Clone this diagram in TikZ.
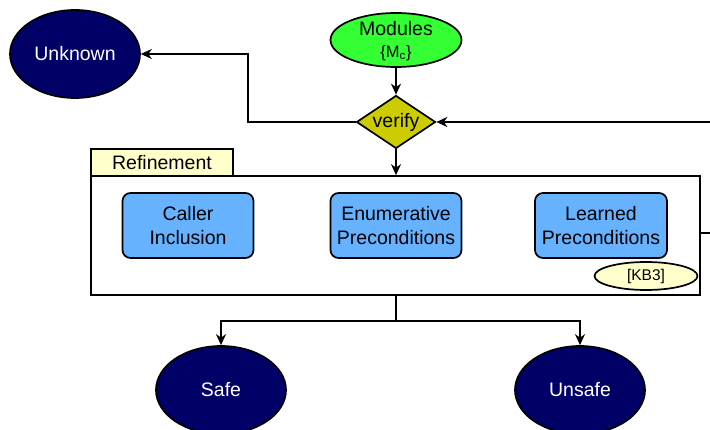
\documentclass[tikz,border=0pt]{standalone}
\usepackage{fontspec}
\setmainfont{Liberation Sans}
\usetikzlibrary{shapes.geometric,arrows.meta}

\definecolor{navy}{HTML}{000066}
\definecolor{modgreen}{HTML}{33FF33}
\definecolor{olive}{HTML}{CCCC00}
\definecolor{stepblue}{HTML}{66B2FF}
\definecolor{paleyellow}{HTML}{FFFFCC}

\tikzset{
  txt/.style={inner sep=0pt, align=center, font=\fontsize{19.5}{24}\selectfont},
  base/.style={txt, draw=black, line width=1.7pt},
  outcome/.style={base, ellipse, fill=navy, text=white,
    minimum width=130pt, minimum height=88pt},
  source/.style={base, ellipse, fill=modgreen, minimum width=131pt, minimum height=54pt},
  check/.style={base, diamond, fill=olive, minimum width=79pt, minimum height=53pt},
  stepbox/.style={base, rounded corners=8pt, fill=stepblue,
    minimum width=131pt, minimum height=65pt},
  frame/.style={base, minimum width=609pt, minimum height=119pt},
  tab/.style={base, fill=paleyellow, minimum width=142pt, minimum height=27pt},
  tag/.style={base, ellipse, fill=paleyellow, minimum width=103pt, minimum height=28pt,
    font=\fontsize{15.5}{18}\selectfont},
  link/.style={line width=1.7pt},
  arr/.style={link, -{Stealth[length=11pt,width=10pt,inset=3.5pt]}},
}

\begin{document}
\begin{tikzpicture}[x=1pt,y=-1pt]
  \useasboundingbox (0,0) rectangle (710,430);
  \clip (0,0) rectangle (710,430);

  % nodes
  \node[outcome] (unk) at (75,54) {Unknown};
  \node[source] (mod) at (396,40) {};
  \node[txt] at (396,28.5) {Modules};
  \node[txt, font=\fontsize{16.5}{20}\selectfont] at (396,53) {\{M\textsubscript{c}\}};
  \node[check] (ver) at (396,122) {};
  \node[txt] at (ver) {verify};

  \node[frame] (ref) at (395.5,235.5) {};
  \node[tab] (reftab) at (162,162.5) {Refinement};

  \node[stepbox] (caller) at (188,225.5) {Caller\\Inclusion};
  \node[stepbox] (enum) at (396,225.5) {Enumerative\\Preconditions};
  \node[stepbox, minimum width=132pt] (learn) at (601,225.5) {Learned\\Preconditions};
  \node[tag] (kb) at (646,276) {[KB3]};

  \node[outcome] (safe) at (221,390) {Safe};
  \node[outcome] (unsafe) at (580,390) {Unsafe};

  % connectors
  \draw[arr] (mod.south) -- (ver.north);
  \draw[arr] (ver.west) -- (248,122) |- (unk.east);
  \draw[arr] (ver.south) -- (ref.north -| ver.south);
  \draw[arr] (ref.east |- 0,233) -- (716,233) |- (ver.east);

  \coordinate (split) at (396,321);
  \draw[link] (split |- ref.south) -- (split);
  \draw[arr] (split) -| (safe.north);
  \draw[arr] (split) -| (unsafe.north);
\end{tikzpicture}
\end{document}
